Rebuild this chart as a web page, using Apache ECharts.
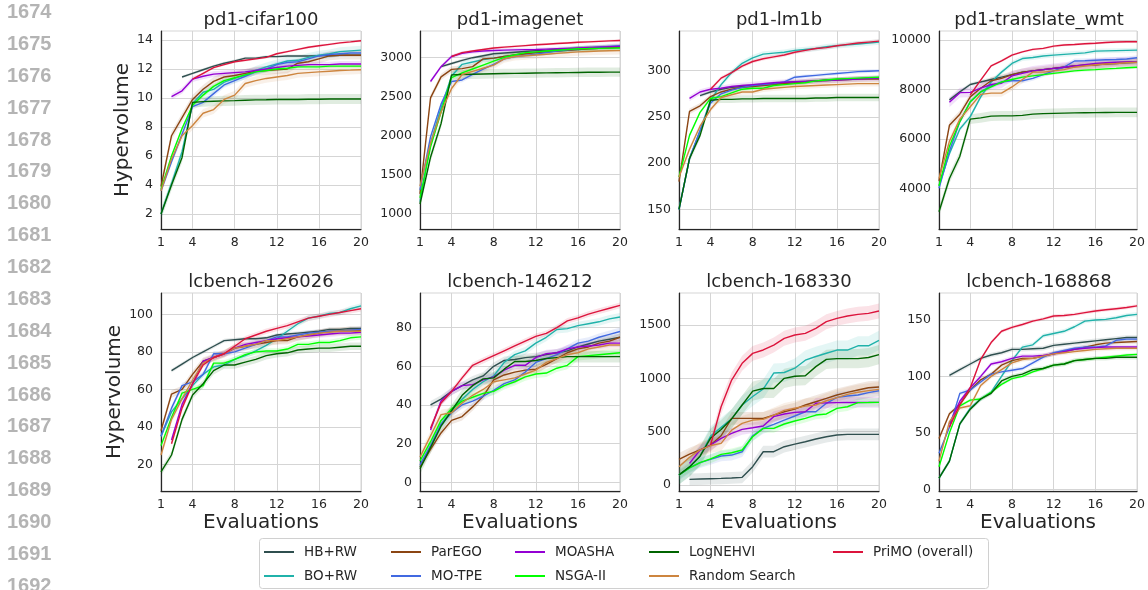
<!DOCTYPE html>
<html><head><meta charset="utf-8">
<script src="https://cdn.jsdelivr.net/npm/echarts@6/dist/echarts.min.js"></script>
<style>html,body{margin:0;padding:0;background:#fff}#c{width:1148px;height:590px}</style>
</head><body><div id="c"></div>
<script>
// ---------------- data ----------------
const methods = ['HB+RW','BO+RW','ParEGO','MO-TPE','MOASHA','NSGA-II','LogNEHVI','Random Search','PriMO (overall)'];
const titles = ['pd1-cifar100','pd1-imagenet','pd1-lm1b','pd1-translate_wmt','lcbench-126026','lcbench-146212','lcbench-168330','lcbench-168868'];
const evaluations = [1,2,3,4,5,6,7,8,9,10,11,12,13,14,15,16,17,18,19,20];
const xTicks = [1,4,8,12,16,20];
const lineNumbers = ['1674','1675','1676','1677','1678','1679','1680','1681','1682','1683','1684','1685','1686','1687','1688','1689','1690','1691','1692'];

// rows follow the order of `methods`
const cifar100 = [
  [null,null,11.45,11.7,11.95,12.2,12.4,12.55,12.75,12.75,12.85,12.85,12.9,12.9,12.9,12.92,12.93,12.95,12.95,12.95],
  [2.0,4.1,6.3,9.6,10.4,10.6,11.1,11.35,11.6,11.9,12.15,12.35,12.55,12.6,12.8,12.95,13.05,13.2,13.25,13.3],
  [3.9,7.4,8.65,9.9,10.6,11.15,11.45,11.55,11.7,11.85,11.9,11.95,12.0,12.4,12.5,12.7,12.9,12.95,12.95,12.95],
  [3.6,5.6,7.5,9.4,9.7,10.3,10.9,11.2,11.5,11.8,12.0,12.3,12.45,12.5,12.7,12.9,13.0,13.05,13.1,13.1],
  [null,10.1,10.5,11.3,11.5,11.65,11.7,11.75,11.8,11.9,12.0,12.1,12.2,12.25,12.3,12.3,12.3,12.35,12.35,12.35],
  [3.7,6.0,7.9,9.5,10.2,10.8,11.2,11.4,11.6,11.8,11.9,12.0,12.05,12.15,12.15,12.15,12.2,12.2,12.2,12.2],
  [2.0,4.0,5.9,9.7,9.75,9.78,9.8,9.82,9.85,9.87,9.88,9.9,9.9,9.9,9.92,9.92,9.93,9.93,9.93,9.93],
  [3.6,5.8,7.4,8.1,8.95,9.2,9.9,10.2,11.0,11.2,11.35,11.45,11.55,11.7,11.75,11.8,11.85,11.9,11.92,11.95],
  [null,null,null,11.3,11.7,12.1,12.3,12.5,12.6,12.7,12.8,13.05,13.2,13.35,13.5,13.6,13.7,13.8,13.87,13.95]
];
const cifar100Band = [0.1,0.3,0.3,0.2,0.2,0.15,0.35,0.3,0.08];

const imagenet = [
  [null,null,2880,2920,2960,2995,3020,3045,3055,3065,3075,3085,3092,3100,3108,3115,3120,3125,3130,3135],
  [1150,1900,2350,2760,2910,2940,2970,2990,3010,3030,3045,3060,3070,3080,3090,3100,3108,3115,3120,3125],
  [1250,2480,2750,2845,2855,2880,2980,2990,3010,3030,3045,3060,3070,3080,3090,3100,3108,3115,3122,3130],
  [1300,1980,2400,2690,2710,2780,2850,2910,2980,3010,3025,3040,3060,3080,3095,3110,3120,3130,3140,3150],
  [null,2690,2880,3010,3050,3070,3080,3088,3092,3095,3098,3100,3105,3110,3115,3120,3125,3130,3135,3140],
  [1200,1850,2300,2740,2800,2850,2900,2950,3000,3030,3060,3070,3080,3090,3100,3110,3112,3115,3118,3120],
  [1120,1720,2150,2775,2780,2783,2786,2789,2792,2794,2796,2798,2800,2802,2804,2806,2808,2809,2810,2810],
  [1350,1900,2300,2600,2780,2820,2860,2900,2980,3010,3020,3030,3040,3050,3060,3070,3075,3080,3083,3085],
  [null,null,null,3010,3060,3080,3100,3120,3130,3140,3150,3160,3168,3176,3184,3192,3198,3204,3210,3215]
];
const imagenetBand = [20,40,40,30,25,30,60,50,15];

const lm1b = [
  [null,null,273,277,280,282,283,284,285,286,287,288,288.5,289,290,290.5,291,291.5,292,292],
  [150,205,235,268,285,298,308,314,318,319,320,322,323,324,326,327,328,329,330,331],
  [180,256,262,272,277,280,282,283,284,285,286,287,288,289,289.5,290,290.5,291,291,291],
  [150,205,235,265,275,279,282,284,285,286,288,293,294,295,296,297,298,299,299.5,300],
  [null,270,277,280,281,283,284,285,286,287,287.5,288,288.5,289,289.5,290,290.5,291,291.5,292],
  [185,230,255,270,272,276,280,281,281,284,285,286,287,289,290,291,291.5,292,292.5,293],
  [150,205,230,268,269,269,269.5,269.5,270,270,270,270,270,270.5,270.5,271,271,271,271,271],
  [185,215,240,258,271,274,277,277,280,281,282,283,283.5,284,284.5,285,285.5,286,286,286],
  [null,null,null,280,292,298,305,310,313,315,317,320,322,324,325,327,328.5,330,331,332]
];
const lm1bBand = [2,3,3,2,3,2,4,3,2];

const translateWmt = [
  [null,7580,7900,8200,8300,8400,8500,8600,8700,8750,8800,8850,8900,8950,8980,9000,9030,9050,9080,9100],
  [4100,5400,6400,6900,7700,8300,8700,9050,9250,9290,9350,9390,9420,9450,9480,9550,9560,9570,9580,9590],
  [4300,6550,7000,7700,8050,8350,8450,8600,8700,8750,8800,8850,8900,8950,8980,9000,9040,9080,9100,9120],
  [4000,5500,6700,7500,7900,8150,8300,8350,8350,8450,8600,8750,8900,9150,9160,9180,9200,9210,9230,9280],
  [null,7480,7870,7880,8050,8200,8250,8550,8650,8750,8800,8850,8900,8950,9000,9050,9080,9100,9110,9120],
  [4100,5700,6700,7500,7900,8100,8300,8400,8500,8550,8600,8650,8700,8750,8780,8800,8830,8850,8880,8900],
  [3050,4400,5300,6800,6850,6920,6930,6930,6950,7000,7020,7030,7040,7050,7055,7060,7065,7070,7070,7070],
  [4400,5900,6800,7300,7800,7850,7850,8100,8400,8700,8700,8750,8800,8900,8950,9000,9030,9050,9080,9100],
  [null,null,null,7780,8380,8950,9160,9390,9520,9620,9660,9750,9800,9820,9850,9870,9900,9920,9930,9930]
];
const translateWmtBand = [80,100,150,100,200,60,200,150,50];

const lc126026 = [
  [null,70,73.5,77,80,83,86,86.5,87,87,87.5,89,89.5,90,90.5,91,92,92,92.5,92.5],
  [35,48,55,62,68,72,73,76,78,80.5,83.5,87,91,95,98,99,100.5,101,103,104.5],
  [38,57.5,60,68,75,77,79,82,83,84,85,86,86,88,89,90,91,91,91.5,91.5],
  [35,50,62,64,68,79,79,80,82,84,86,88,88,89,90,90.5,91,91,91.5,92],
  [null,33,52,63,75,77,79,82,84,85,86,87,87.5,88,88.5,89,89.5,90,90,90.5],
  [30,45,58,60,62,74,74,76,78.5,80,80.5,80.5,81.5,84,84,85,85,86,87.5,88],
  [16,25,44,57,63,70,73,73,74.5,76,78,79,79.5,81,81.5,82,82,82.5,83,83],
  [25,44,55,65,74,77,79,82,83,84,86,86,87,88,89,90,90.5,91,91,91],
  [null,31,50,63,73,77,79,83,87,89,91,92.5,94,96,98,99,100,101,102,103]
];
const lc126026Band = [1,1.5,2,1.5,1.5,1.5,2,2,1.5];

const lc146212 = [
  [null,40,43,47,50,53,55,60,63,63.5,64.5,65,66,67,68,70,71.5,73,74,75],
  [8,18,30,37,43,48,52,55,62,66,68,72,75,79,79.5,81,82,83,84.5,85.5],
  [8,17,25.5,32,34,39,44.5,53,55.5,57,58,58.5,61,64,67,69,70,72,73,75],
  [9,19,30,36,40,42,44.5,47.5,51,53,57,62,64,66,69,72,73,75,76.5,78],
  [null,27,42,47,50,50.5,53,54.5,58,60.5,60.5,64.5,66.5,67,69,70,70.5,71,72,72],
  [11,21,32,38,42,44,46,47,50,52,54.5,56,56.5,59,60.5,65,65.5,66,66.5,67],
  [7,18,29,37,45,50,53.5,54,58.5,62.5,62.5,63,64,64.5,65,65,65,65,65,65],
  [13,24,35,36,41,45,48,52,53,54,56,58,62,64,66,67,69,70,71,71],
  [null,28,41,47,54,60.5,63,65.5,68,70.5,73,75.5,77,80,83.5,85,87,88.5,90,91.5]
];
const lc146212Band = [2,2,2,2,2,2,3,2.5,1.5];

const lc168330 = [
  [null,53,56,59,62,66,72,172,312,312,359,384,406,431,453,469,475,475,475,475],
  [95,170,270,460,540,620,750,830,900,1050,1055,1095,1170,1205,1235,1265,1265,1305,1305,1355],
  [240,290,330,375,462,625,625,625,625,656,687,712,750,781,812,844,869,891,912,919],
  [95,160,210,240,272,281,312,462,531,569,609,647,687,687,766,822,834,844,866,884],
  [null,203,328,375,437,484,522,537,553,641,666,681,687,766,770,772,773,774,775,775],
  [95,160,210,245,287,303,328,453,531,531,572,600,625,656,666,719,734,772,773,775],
  [95,170,270,440,520,620,750,880,905,905,1000,1020,1025,1110,1178,1185,1185,1185,1195,1222],
  [172,260,330,370,390,515,578,609,615,656,700,720,740,750,790,820,850,870,885,897],
  [null,null,null,375,734,984,1141,1234,1266,1312,1375,1406,1422,1469,1531,1562,1584,1600,1609,1631]
];
const lc168330Band = [55,90,60,50,50,40,90,70,70];

const lc168868 = [
  [null,101,106,111,116,119,121,124,124,124.5,125,127.5,128.5,129.5,130.5,131.5,132.5,133.5,134.5,134.5],
  [10,25,58,72,80,86,100,114,126,128,136,138,140,144,149,150,150.5,152,154,155],
  [45,67,75,88,97,102,110,114,116,116,118,120,122,124,126,128,129.5,130,130.5,131],
  [32,55,85,88,95,102,104,105.5,107,112,117,121,123,125,126,126,127,132,133,133],
  [null,58,78,90,100,111,113,116,118,118,118.5,120,122,124,125,125.5,126,126,126,126],
  [20,50,74,79,80,86,93,98,100,104,107,110,111,114,115,116,117,118,119,119.5],
  [10,25,58,71,80,85,96,100,102,106,107,110,111,114,115,116,116,117,117,117],
  [25,60,72,74,92,100,106,112,115,116,118,120,121,122,123,124,124.5,125,125,125],
  [null,55,75,90,115,130,140,143.5,146,149,151,153.5,154,155,156.5,158,159,160,161,162.5]
];
const lc168868Band = [2,2,2,2,2,1.5,2,2,1.5];

const yTicksList = [
  [2,4,6,8,10,12,14],
  [1000,1500,2000,2500,3000],
  [150,200,250,300],
  [4000,6000,8000,10000],
  [20,40,60,80,100],
  [0,20,40,60,80],
  [0,500,1000,1500],
  [0,50,100,150]
];

// ---------------- layout / style ----------------
const panelData = [cifar100, imagenet, lm1b, translateWmt, lc126026, lc146212, lc168330, lc168868];
const panelBand = [cifar100Band, imagenetBand, lm1bBand, translateWmtBand, lc126026Band, lc146212Band, lc168330Band, lc168868Band];
const yRange = [[0.97,14.62],[800,3337],[128.7,343],[2354,10364],[5.8,111.4],[-4.5,97.9],[-56,1800],[-1.5,173.9]];
const colors = ['#2F4F4F','#20B2AA','#8B4513','#4169E1','#9400D3','#00FF00','#006400','#CD853F','#DC143C'];
const gridLefts = [161,420,679,939];
const gridTops = [31,293];
const GW = 200, GH = 198;
const FONT = 'DejaVu Sans';
const TXT = '#262626';
const GRIDC = '#d5d5d5';

function bandSeries(k, color, rows) {
  return {
    type: 'custom', xAxisIndex: k, yAxisIndex: k, clip: true, silent: true, z: 1, animation: false,
    data: rows, encode: {x: 0, y: [1, 2]},
    renderItem: function (params, api) {
      if (params.dataIndex !== 0) return null;
      const pts = [];
      for (let i = 0; i < rows.length; i++) pts.push(api.coord([rows[i][0], rows[i][2]]));
      for (let i = rows.length - 1; i >= 0; i--) pts.push(api.coord([rows[i][0], rows[i][1]]));
      return {type: 'polygon', shape: {points: pts}, style: {fill: color, opacity: 0.12}};
    }
  };
}

const grids = [], xAxes = [], yAxes = [], series = [], graphics = [];
for (let k = 0; k < 8; k++) {
  const row = k >> 2, col = k & 3;
  const left = gridLefts[col], top = gridTops[row];
  grids.push({left, top, width: GW, height: GH, show: true, borderColor: GRIDC, borderWidth: 1});
  xAxes.push({
    gridIndex: k, type: 'value', min: 1, max: 20,
    axisLine: {show: true, onZero: false, lineStyle: {color: TXT, width: 1.25}},
    axisTick: {show: false, customValues: xTicks},
    axisLabel: {customValues: xTicks, fontSize: 12.5, color: TXT, fontFamily: FONT, margin: 7, formatter: v => String(v)},
    splitLine: {show: true, lineStyle: {color: GRIDC, width: 1}},
    name: row === 1 ? 'Evaluations' : '', nameLocation: 'middle', nameGap: 22,
    nameTextStyle: {fontSize: 20, color: TXT, fontFamily: FONT}
  });
  yAxes.push({
    gridIndex: k, type: 'value', min: yRange[k][0], max: yRange[k][1],
    axisLine: {show: true, onZero: false, lineStyle: {color: TXT, width: 1.25}},
    axisTick: {show: false, customValues: yTicksList[k]},
    axisLabel: {customValues: yTicksList[k], fontSize: 12.5, color: TXT, fontFamily: FONT, margin: 8, formatter: v => String(v)},
    splitLine: {show: true, lineStyle: {color: GRIDC, width: 1}},
    name: col === 0 ? 'Hypervolume' : '', nameLocation: 'middle', nameGap: 27,
    nameTextStyle: {fontSize: 20, color: TXT, fontFamily: FONT}
  });
  graphics.push({type: 'text', x: left + GW / 2, y: top - 11, z: 10,
    style: {text: titles[k], fontFamily: FONT, fontSize: 18, fill: TXT, align: 'center', verticalAlign: 'middle'}});

  const data = panelData[k], band = panelBand[k];
  for (let m = 0; m < methods.length; m++) {
    const rows = [];
    data[m].forEach((v, i) => {
      if (v === null) return;
      rows.push([evaluations[i], v - band[m], v + band[m]]);
    });
    series.push(bandSeries(k, colors[m], rows));
  }
  for (let m = 0; m < methods.length; m++) {
    const pts = [];
    data[m].forEach((v, i) => { if (v !== null) pts.push([evaluations[i], v]); });
    series.push({type: 'line', name: methods[m], xAxisIndex: k, yAxisIndex: k, data: pts,
      symbol: 'none', showSymbol: false, color: colors[m], itemStyle: {color: colors[m]},
      lineStyle: {color: colors[m], width: 1.4}, z: 2, animation: false});
  }
}

// line numbers on the page margin
lineNumbers.forEach((t, i) => {
  graphics.push({type: 'text', x: 7, y: 12.5 + 31.875 * i,
    style: {text: t, fontFamily: 'Liberation Sans', fontWeight: 'bold', fontSize: 20, fill: '#b4b4b4', verticalAlign: 'middle'}});
});

// legend frame
graphics.push({type: 'rect', shape: {x: 259.5, y: 538.5, width: 729, height: 50, r: 3},
  style: {fill: '#ffffff', stroke: '#d0d0d0', lineWidth: 1}, z: 0});

const legendLeft = [264, 264, 391, 391, 515, 515, 649, 649, 833];
const legendTop = [544, 568, 544, 568, 544, 568, 544, 568, 544];
const legends = methods.map((name, i) => ({
  data: [name], left: legendLeft[i], top: legendTop[i], orient: 'horizontal', padding: 0,
  icon: 'rect', itemWidth: 30, itemHeight: 2, z: 5,
  textStyle: {fontSize: 13.5, fontFamily: FONT, color: TXT, padding: [0, 0, 0, 5], lineHeight: 16}
}));

const chart = echarts.init(document.getElementById('c'), null, {renderer: 'canvas'});
chart.setOption({
  backgroundColor: '#ffffff',
  animation: false,
  grid: grids, xAxis: xAxes, yAxis: yAxes, series,
  legend: legends,
  graphic: graphics
});
</script></body></html>
